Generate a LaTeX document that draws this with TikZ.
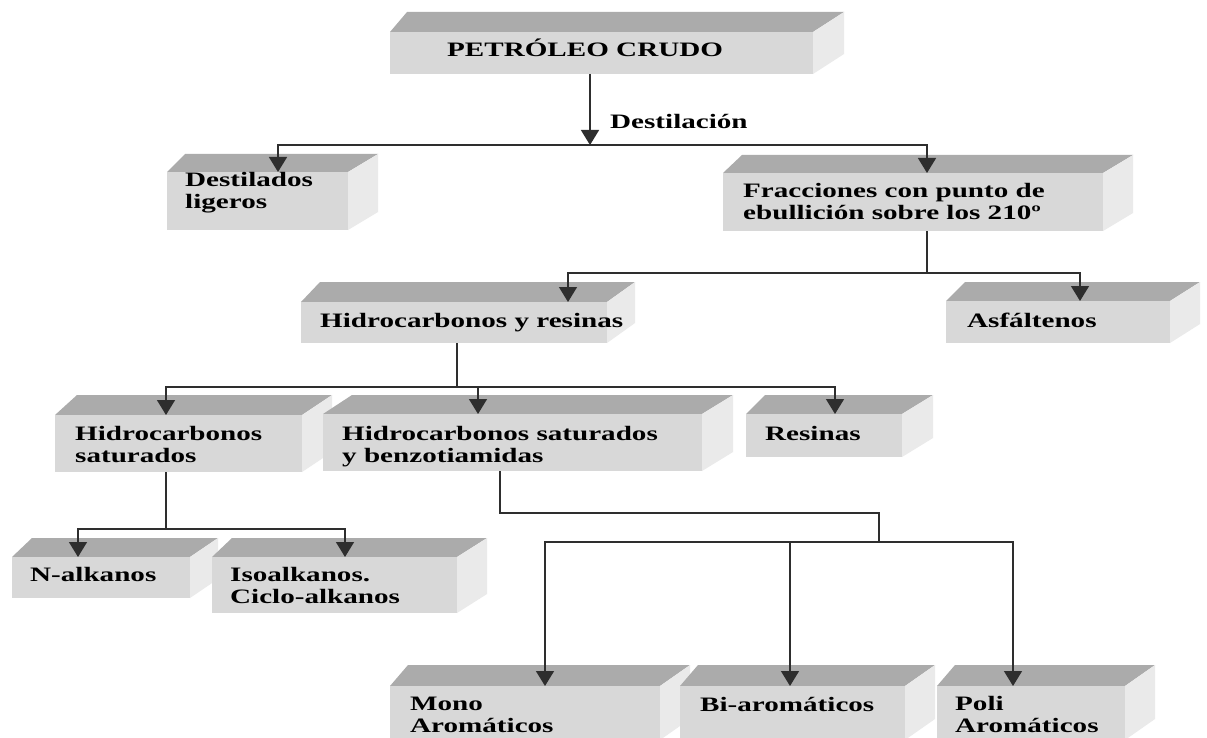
\documentclass[tikz,border=0pt]{standalone}
\usepackage{fontspec}
\setmainfont[FakeStretch=1.42]{Liberation Serif}
\usetikzlibrary{arrows.meta,fit}
\definecolor{topc}{HTML}{ABABAB}
\definecolor{frontc}{HTML}{D8D8D8}
\definecolor{sidec}{HTML}{EAEAEA}
\definecolor{linec}{HTML}{2E2E2E}
% name, x1, y1, x2, y2, left depth, right depth, vertical depth
\newcommand\cubebox[8]{%
  \fill[topc] (#2,#3) -- (#2+#6,#3-#8) -- (#4+#7,#3-#8) -- (#4,#3) -- cycle;
  \fill[sidec] (#4,#3) -- (#4+#7,#3-#8) -- (#4+#7,#5-#8) -- (#4,#5) -- cycle;
  \node[frontbox, fit={(#2,#3) (#4,#5)}] (#1) {};
}
\begin{document}
\begin{tikzpicture}[x=1pt,y=-1pt,
  frontbox/.style={fill=frontc, inner sep=0pt, outer sep=0pt, draw=none},
  lbl/.style={font=\bfseries\fontsize{20.5}{22}\selectfont, align=left, inner sep=0pt, anchor=base west},
  line/.style={draw=linec, line width=1.4pt},
  arr/.style={line, -{Triangle[width=18pt,length=15pt]}}]
\useasboundingbox (0,0) rectangle (1207,738);
\fill[white] (0,0) rectangle (1207,738);

\cubebox{pet}{390}{32}{813}{74}{17}{31}{20}
\cubebox{dest}{167}{172}{348}{230}{18}{30}{18}
\cubebox{frac}{723}{173}{1103}{231}{19}{30}{18}
\cubebox{hyr}{301}{302}{607}{343}{19}{28}{20}
\cubebox{asf}{946}{301}{1170}{343}{19}{30}{19}
\cubebox{hsat}{55}{415}{302}{472}{22}{30}{20}
\cubebox{hsb}{323}{414}{702}{471}{29}{31}{19}
\cubebox{res}{746}{414}{902}{457}{19}{31}{19}
\cubebox{nalk}{12}{557}{190}{598}{20}{28}{19}
\cubebox{iso}{212}{557}{457}{613}{20}{30}{19}
\cubebox{mono}{390}{686}{660}{740}{18}{30}{21}
\cubebox{bi}{680}{686}{905}{740}{18}{30}{21}
\cubebox{poli}{937}{686}{1125}{740}{18}{30}{21}

% multi-line labels: base point = baseline of the last line
\node[lbl] (pet-t) at (447,57) {PETRÓLEO CRUDO};
\node[lbl] (dest-t) at (185,209) {Destilados\\ligeros};
\node[lbl] (frac-t) at (743,219) {Fracciones con punto de\\ebullición sobre los 210º};
\node[lbl] (hyr-t) at (320,327) {Hidrocarbonos y resinas};
\node[lbl] (asf-t) at (967,327) {Asfáltenos};
\node[lbl] (hsat-t) at (75,462) {Hidrocarbonos\\saturados};
\node[lbl] (hsb-t) at (342,462) {Hidrocarbonos saturados\\y benzotiamidas};
\node[lbl] (res-t) at (765,440) {Resinas};
\node[lbl] (nalk-t) at (30,581) {N-alkanos};
\node[lbl] (iso-t) at (230,603) {Isoalkanos.\\Ciclo-alkanos};
\node[lbl] (mono-t) at (410,732) {Mono\\Aromáticos};
\node[lbl] (bi-t) at (700,711) {Bi-aromáticos};
\node[lbl] (poli-t) at (955,732) {Poli\\Aromáticos};
\node[lbl] (dst) at (610,129) {Destilación};

% x positions of drops
\coordinate (x-dest) at (278,0);
\coordinate (x-frac) at (927,0);
\coordinate (x-hyr) at (568,0);
\coordinate (x-asf) at (1080,0);
\coordinate (x-hsat) at (166,0);
\coordinate (x-hsb) at (478,0);
\coordinate (x-res) at (835,0);
\coordinate (x-nalk) at (78,0);
\coordinate (x-iso) at (345,0);
\coordinate (x-mono) at (545,0);
\coordinate (x-bi) at (790,0);
\coordinate (x-poli) at (1013,0);

% junctions
\coordinate (c0) at (590,145);
\coordinate (c1) at (927,273);
\coordinate (c2) at (457,387);
\coordinate (c3) at (166,529);
\coordinate (c4) at (500,513);
\coordinate (c5) at (879,513);
\coordinate (c6) at (879,542);

\draw[arr] (pet.south -| c0) -- (c0);
\draw[arr] (c0) -| (x-dest |- dest.north);
\draw[arr] (c0) -| (x-frac |- frac.north);

\draw[line] (frac.south -| c1) -- (c1);
\draw[arr] (c1) -| (x-hyr |- hyr.north);
\draw[arr] (c1) -| (x-asf |- asf.north);

\draw[line] (hyr.south -| c2) -- (c2);
\draw[arr] (c2) -| (x-hsat |- hsat.north);
\draw[arr] (c2) -| (x-hsb |- hsb.north);
\draw[arr] (c2) -| (x-res |- res.north);

\draw[line] (hsat.south -| c3) -- (c3);
\draw[arr] (c3) -| (x-nalk |- nalk.north);
\draw[arr] (c3) -| (x-iso |- iso.north);

\draw[line] (hsb.south -| c4) -- (c4) -- (c5) -- (c6);
\draw[arr] (c6) -| (x-mono |- mono.north);
\draw[arr] (c6) -| (x-bi |- bi.north);
\draw[arr] (c6) -| (x-poli |- poli.north);
\end{tikzpicture}
\end{document}
